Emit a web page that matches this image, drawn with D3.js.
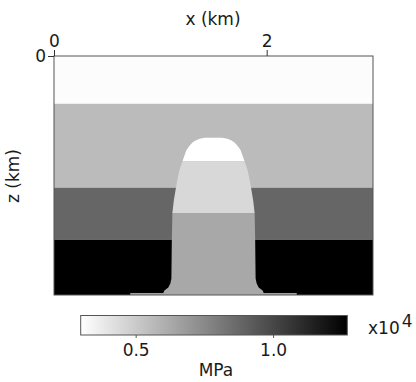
<!DOCTYPE html>
<html>
<head>
<meta charset="utf-8">
<script src="https://cdn.jsdelivr.net/npm/d3@7"></script>
<style>
  body { margin: 0; background: #fff; }
  text { font-family: "DejaVu Sans", sans-serif; fill: #1a1a1a; }
</style>
</head>
<body>
<div id="chart"></div>
<script>
// layered background (depth of layer top in km, stress x10^4 MPa)
var layerTops = [0, 0.45, 1.24, 1.73];
var layerValues = [0.31, 0.559, 0.882, 1.27];

// salt dome bands (top depth in km, stress x10^4 MPa)
var domeTops = [0.767, 0.99, 1.478];
var domeValues = [0.30, 0.448, 0.631];

// dome outline: depth (km) and half width (km) around the centre
var domeCenter = 1.5;
var profileZ = [0.767, 0.778, 0.792, 0.812, 0.835, 0.858, 0.887, 0.934, 0.991, 1.075, 1.170,
                1.245, 1.358, 1.481, 1.736, 2.094, 2.142, 2.179, 2.208, 2.231];
var profileHalf = [0.075, 0.130, 0.165, 0.195, 0.217, 0.236, 0.255, 0.272, 0.292, 0.321, 0.340,
                   0.354, 0.373, 0.387, 0.392, 0.396, 0.406, 0.425, 0.462, 0.472];
// thin strip at the base
var baseHalf = 0.783;
var baseTop = 2.231;
var baseValue = 0.66;

var xTicks = [0, 2];
var zTicks = [0];
var cbTicks = [0.5, 1.0];
var cbDomain = [0.3, 1.27];
var xMax = 3, zMax = 2.25;

var fontSize = "17px";
var width = 416, height = 382;
var svg = d3.select("#chart").append("svg")
    .attr("width", width)
    .attr("height", height);

var x = d3.scaleLinear().domain([0, xMax]).range([54, 373]);
var y = d3.scaleLinear().domain([0, zMax]).range([56, 295]);
var color = d3.scaleLinear().domain(cbDomain).range(["#ffffff", "#000000"]);

var plot = svg.append("g");

// background layers
layerTops.forEach(function (t, i) {
    var b = i < layerTops.length - 1 ? layerTops[i + 1] : zMax;
    plot.append("rect")
        .attr("x", x(0))
        .attr("y", y(t))
        .attr("width", x(xMax) - x(0))
        .attr("height", y(b) - y(t))
        .attr("fill", color(layerValues[i]));
});

// base strip
plot.append("rect")
    .attr("x", x(domeCenter - baseHalf))
    .attr("y", y(baseTop))
    .attr("width", x(domeCenter + baseHalf) - x(domeCenter - baseHalf))
    .attr("height", y(zMax) - y(baseTop))
    .attr("fill", color(baseValue));

// dome outline
var outline = [];
profileZ.forEach(function (z, i) {
    outline.push([domeCenter - profileHalf[i], z]);
});
outline.push([domeCenter - profileHalf[profileHalf.length - 1], zMax]);
outline.push([domeCenter + profileHalf[profileHalf.length - 1], zMax]);
for (var i = profileZ.length - 1; i >= 0; i--) {
    outline.push([domeCenter + profileHalf[i], profileZ[i]]);
}
var line = d3.line()
    .x(function (d) { return x(d[0]); })
    .y(function (d) { return y(d[1]); });

svg.append("clipPath").attr("id", "dome")
    .append("path")
    .attr("d", line(outline) + "Z");

var domeG = plot.append("g").attr("clip-path", "url(#dome)");
domeTops.forEach(function (t, i) {
    var b = i < domeTops.length - 1 ? domeTops[i + 1] : zMax;
    domeG.append("rect")
        .attr("x", x(0))
        .attr("y", y(t))
        .attr("width", x(xMax) - x(0))
        .attr("height", y(b) - y(t) + (i < domeTops.length - 1 ? 0 : 1))
        .attr("fill", color(domeValues[i]));
});

// frame
plot.append("rect")
    .attr("x", x(0))
    .attr("y", y(0))
    .attr("width", x(xMax) - x(0))
    .attr("height", y(zMax) - y(0))
    .attr("fill", "none")
    .attr("stroke", "#555")
    .attr("stroke-width", 1);

// axes
var xAxis = svg.append("g")
    .attr("transform", "translate(0," + y(0) + ")")
    .call(d3.axisTop(x).tickValues(xTicks).tickSize(6).tickPadding(3).tickFormat(d3.format("d")));
var zAxis = svg.append("g")
    .attr("transform", "translate(" + x(0) + ",0)")
    .call(d3.axisLeft(y).tickValues(zTicks).tickSize(6).tickPadding(2).tickFormat(d3.format("d")));
[xAxis, zAxis].forEach(function (a) {
    a.select(".domain").remove();
    a.selectAll("line").attr("stroke", "#333");
    a.selectAll("text").style("font-size", fontSize).attr("fill", "#1a1a1a")
        .style("font-family", "'DejaVu Sans', sans-serif");
});

svg.append("text")
    .attr("x", 213)
    .attr("y", 25)
    .attr("text-anchor", "middle")
    .style("font-size", fontSize)
    .text("x (km)");

svg.append("text")
    .attr("transform", "translate(19,176) rotate(-90)")
    .attr("text-anchor", "middle")
    .style("font-size", fontSize)
    .text("z (km)");

// colour bar
var cb = d3.scaleLinear().domain(cbDomain).range([80.7, 347.3]);
var grad = svg.append("defs").append("linearGradient").attr("id", "cbgrad");
grad.append("stop").attr("offset", "0%").attr("stop-color", color(cbDomain[0]));
grad.append("stop").attr("offset", "100%").attr("stop-color", color(cbDomain[1]));

svg.append("rect")
    .attr("x", cb(cbDomain[0]))
    .attr("y", 315.5)
    .attr("width", cb(cbDomain[1]) - cb(cbDomain[0]))
    .attr("height", 19.5)
    .attr("fill", "url(#cbgrad)")
    .attr("stroke", "#555");

var cbAxis = svg.append("g")
    .attr("transform", "translate(0,335)")
    .call(d3.axisBottom(cb).tickValues(cbTicks).tickSize(3).tickPadding(6).tickFormat(d3.format(".1f")));
cbAxis.select(".domain").remove();
cbAxis.selectAll("line").attr("stroke", "#555");
cbAxis.selectAll("text").style("font-size", fontSize).attr("fill", "#1a1a1a")
    .style("font-family", "'DejaVu Sans', sans-serif");

svg.append("text")
    .attr("x", 216)
    .attr("y", 376)
    .attr("text-anchor", "middle")
    .style("font-size", fontSize)
    .text("MPa");

var sci = svg.append("text")
    .attr("x", 368)
    .attr("y", 334)
    .style("font-size", fontSize);
sci.append("tspan").text("x10");
sci.append("tspan").attr("dx", 2).attr("dy", -7).text("4");
</script>
</body>
</html>
